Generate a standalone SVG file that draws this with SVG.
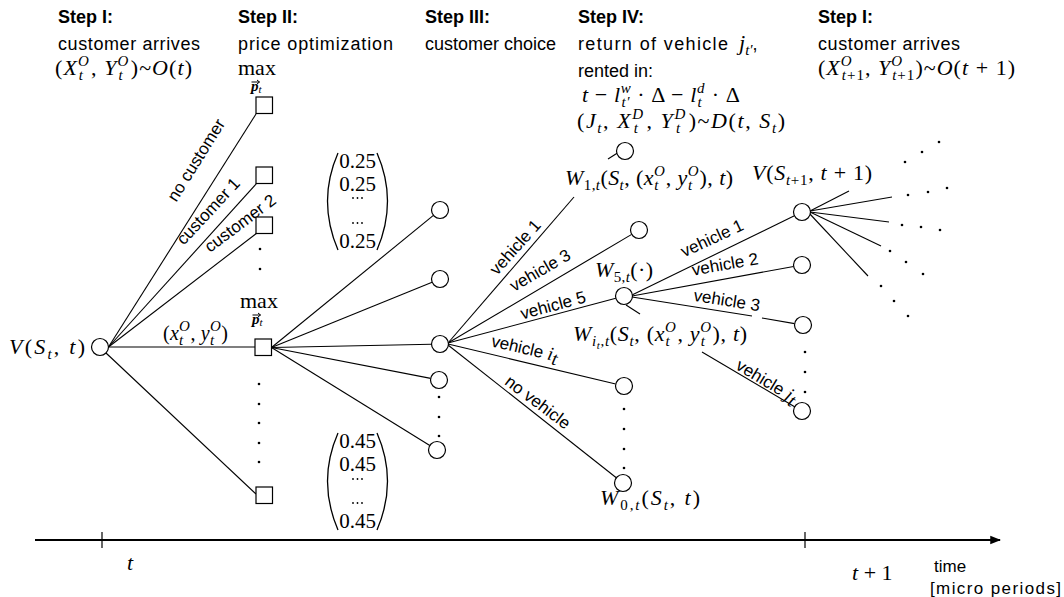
<svg xmlns="http://www.w3.org/2000/svg" width="1064" height="597" viewBox="0 0 1064 597">
<defs>
<style>
.h{font-family:"Liberation Sans",Arial,sans-serif;font-size:18px;fill:#000}
.b{font-weight:bold}
.m{font-family:"Liberation Serif","Times New Roman",serif;font-size:22px;fill:#000}
.i{font-style:italic}
.s{font-size:15px}
.ss{font-size:11px}
.pb{font-weight:bold;font-style:italic;font-size:15px}
.l{font-family:"Liberation Sans",Arial,sans-serif;font-size:17px;fill:#000;text-anchor:middle}
.n{fill:#fff;stroke:#000;stroke-width:1.2}
.c line{stroke:#000;stroke-width:1.1}
.d circle{fill:#000}
.v{font-family:"Liberation Serif","Times New Roman",serif;font-size:19px}
.vec{font-family:"Liberation Serif","Times New Roman",serif;font-size:21px;fill:#000;text-anchor:middle}
.par{fill:none;stroke:#000;stroke-width:1.3}
.acc{stroke:#000;stroke-width:1;fill:none}
</style>
<marker id="arr" viewBox="0 0 10 10" refX="9" refY="5" markerWidth="6" markerHeight="6" orient="auto" markerUnits="strokeWidth">
<path d="M0,1 L10,5 L0,9 z" fill="#000"/>
</marker>
</defs>
<rect width="1064" height="597" fill="#fff"/>

<g id="headers">
<text class="h b" x="58" y="23">Step I:</text>
<text class="h" x="58" y="50" textLength="142">customer arrives</text>
<text class="m" x="55" y="75" textLength="137">(<tspan class="i">X</tspan><tspan class="i s" dy="-9">O</tspan><tspan class="i s" dx="-11" dy="14">t</tspan><tspan dx="7" dy="-5">, </tspan><tspan class="i">Y</tspan><tspan class="i s" dy="-9">O</tspan><tspan class="i s" dx="-11" dy="14">t</tspan><tspan dx="7" dy="-5">)~</tspan><tspan class="i">O</tspan>(<tspan class="i">t</tspan>)</text>

<text class="h b" x="238" y="23">Step II:</text>
<text class="h" x="238" y="50" textLength="155">price optimization</text>

<text class="h b" x="425" y="23">Step III:</text>
<text class="h" x="425" y="50">customer choice</text>

<text class="h b" x="578" y="23">Step IV:</text>
<text class="h" x="578" y="50" textLength="150">return of vehicle</text>
<text class="m" x="739" y="50"><tspan class="i">j</tspan><tspan class="i s" dy="5">t′</tspan><tspan class="h" dy="-5">,</tspan></text>
<text class="h" x="578" y="77">rented in:</text>
<text class="m" x="582" y="102" textLength="158"><tspan class="i">t</tspan> − <tspan class="i">l</tspan><tspan class="i s" dy="-9">w</tspan><tspan class="i s" dx="-10" dy="14">t′</tspan><tspan dx="1" dy="-5"> · Δ − </tspan><tspan class="i">l</tspan><tspan class="i s" dy="-9">d</tspan><tspan class="i s" dx="-7.5" dy="14">t</tspan><tspan dx="3.3" dy="-5"> · Δ</tspan></text>
<text class="m" x="577" y="128" textLength="208">(<tspan class="i">J</tspan><tspan class="i s" dy="5">t</tspan><tspan dy="-5">, </tspan><tspan class="i">X</tspan><tspan class="i s" dy="-9">D</tspan><tspan class="i s" dx="-11" dy="14">t</tspan><tspan dx="7" dy="-5">, </tspan><tspan class="i">Y</tspan><tspan class="i s" dy="-9">D</tspan><tspan class="i s" dx="-11" dy="14">t</tspan><tspan dx="7" dy="-5">)~</tspan><tspan class="i">D</tspan>(<tspan class="i">t</tspan>, <tspan class="i">S</tspan><tspan class="i s" dy="5">t</tspan><tspan dy="-5">)</tspan></text>

<text class="h b" x="818" y="23">Step I:</text>
<text class="h" x="818" y="50" textLength="142">customer arrives</text>
<text class="m" x="818" y="75" textLength="197">(<tspan class="i">X</tspan><tspan class="i s" dy="-9">O</tspan><tspan class="i s" dx="-11" dy="14">t</tspan><tspan class="s">+1</tspan><tspan dy="-5">, </tspan><tspan class="i">Y</tspan><tspan class="i s" dy="-9">O</tspan><tspan class="i s" dx="-11" dy="14">t</tspan><tspan class="s">+1</tspan><tspan dy="-5">)~</tspan><tspan class="i">O</tspan>(<tspan class="i">t</tspan> + 1)</text>
</g>

<g id="connectors" class="c">
<line x1="108.5" y1="347" x2="256" y2="114"/>
<line x1="108.5" y1="347" x2="257" y2="183"/>
<line x1="108.5" y1="347" x2="257" y2="233"/>
<line x1="108.5" y1="347" x2="255" y2="347"/>
<line x1="106" y1="353" x2="256" y2="494"/>
<line x1="271.5" y1="347.5" x2="433.4" y2="215.4"/>
<line x1="271.5" y1="347.5" x2="432.1" y2="282.2"/>
<line x1="271.5" y1="347.5" x2="431.5" y2="344.2"/>
<line x1="271.5" y1="347.5" x2="430.7" y2="378.4"/>
<line x1="271.5" y1="347.5" x2="429.8" y2="445.5"/>
<line x1="448" y1="343" x2="574" y2="197"/>
<line x1="608" y1="159" x2="619" y2="152"/>
<line x1="448" y1="343" x2="631.7" y2="234.4"/>
<line x1="448" y1="343" x2="615.8" y2="298.2"/>
<line x1="448" y1="344" x2="615.7" y2="384"/>
<line x1="448" y1="345" x2="616.3" y2="477.7"/>
<line x1="632" y1="295" x2="794.4" y2="215.8"/>
<line x1="632" y1="296" x2="793.6" y2="266.5"/>
<line x1="632" y1="297" x2="752" y2="316"/>
<line x1="762" y1="318" x2="794.6" y2="323.6"/>
<line x1="626" y1="305" x2="640" y2="314"/>
<line x1="702" y1="352" x2="795" y2="407"/>
<line x1="810" y1="211" x2="849" y2="191"/>
<line x1="810" y1="211" x2="892" y2="197"/>
<line x1="810" y1="212" x2="889" y2="222"/>
<line x1="810" y1="212" x2="881" y2="246"/>
<line x1="809" y1="213" x2="868" y2="276"/>
</g>

<g id="connector-labels">
<text class="l" x="196" y="166" transform="rotate(-58 196 160)">no customer</text>
<text class="l" x="208" y="217" transform="rotate(-47 208 211)">customer 1</text>
<text class="l" x="240" y="229" transform="rotate(-37 240 223)">customer 2</text>
<text class="m" x="163" y="340" textLength="65" style="font-size:20px">(<tspan class="i">x</tspan><tspan class="i s" dy="-9">O</tspan><tspan class="i s" dx="-11" dy="14">t</tspan><tspan dx="7" dy="-5">, </tspan><tspan class="i">y</tspan><tspan class="i s" dy="-9">O</tspan><tspan class="i s" dx="-11" dy="14">t</tspan><tspan dx="7" dy="-5">)</tspan></text>
<text class="l" x="515" y="253" transform="rotate(-48 515 247)">vehicle 1</text>
<text class="l" x="540" y="276" transform="rotate(-30 540 270)">vehicle 3</text>
<text class="l" x="553" y="311" transform="rotate(-15 553 305)">vehicle 5</text>
<text class="l" x="525" y="354" transform="rotate(13 525 348)">vehicle <tspan class="v i">i</tspan><tspan class="v i s" dy="4">t</tspan></text>
<text class="l" x="538" y="408" transform="rotate(37 538 402)">no vehicle</text>
<text class="l" x="712" y="244" transform="rotate(-25 712 238)">vehicle 1</text>
<text class="l" x="725" y="270" transform="rotate(-10 725 264)">vehicle 2</text>
<text class="l" x="727" y="306" transform="rotate(9 727 300)">vehicle 3</text>
<text class="l" x="767" y="387" transform="rotate(31 767 381)">vehicle <tspan class="v i">j</tspan><tspan class="v i s" dy="4">t</tspan></text>
</g>

<g id="node-root">
<circle class="n" cx="100" cy="347" r="8.5"/>
<text class="m" x="9" y="354" textLength="76"><tspan class="i">V</tspan>(<tspan class="i">S</tspan><tspan class="i s" dy="5">t</tspan><tspan dy="-5">, </tspan><tspan class="i">t</tspan>)</text>
</g>

<g id="node-price-none">
<rect class="n" x="256" y="97" width="16.5" height="16.5"/>
<text class="m"><tspan x="238" y="75">max</tspan><tspan class="pb" x="251" y="91">p</tspan><tspan class="i ss" dy="2">t</tspan></text>
<path class="acc" d="M251.5,82 H259.5 M257,80 L259.5,82 L257,84"/>
</g>
<g id="node-price-c1"><rect class="n" x="256" y="167" width="16.5" height="16.5"/></g>
<g id="node-price-c2"><rect class="n" x="256" y="217" width="16.5" height="16.5"/></g>
<g id="node-price-main">
<rect class="n" x="255" y="339" width="16.5" height="16.5"/>
<text class="m"><tspan x="240" y="308">max</tspan><tspan class="pb" x="252" y="324">p</tspan><tspan class="i ss" dy="2">t</tspan></text>
<path class="acc" d="M252.5,315 H260.5 M258,313 L260.5,315 L258,317"/>
</g>
<g id="node-price-last"><rect class="n" x="256" y="487" width="16.5" height="16.5"/></g>

<g id="price-vectors">
<path class="par" d="M338,153 Q317,201 338,250"/>
<path class="par" d="M377,153 Q398,201 377,250"/>
<text class="vec"><tspan x="357.5" y="168">0.25</tspan><tspan x="357.5" y="191">0.25</tspan><tspan x="357.5" y="248">0.25</tspan></text>
<path class="par" d="M338,433 Q317,481 338,530"/>
<path class="par" d="M377,433 Q398,481 377,530"/>
<text class="vec"><tspan x="357.5" y="448">0.45</tspan><tspan x="357.5" y="471">0.45</tspan><tspan x="357.5" y="528">0.45</tspan></text>
</g>

<g id="node-choice-a"><circle class="n" cx="440" cy="210" r="8.5"/></g>
<g id="node-choice-b"><circle class="n" cx="440" cy="279" r="8.5"/></g>
<g id="node-choice-main"><circle class="n" cx="440" cy="344" r="8.5"/></g>
<g id="node-choice-d"><circle class="n" cx="439" cy="380" r="8.5"/></g>
<g id="node-choice-e"><circle class="n" cx="437" cy="450" r="8.5"/></g>

<g id="node-w1">
<circle class="n" cx="625" cy="151" r="8.5"/>
<text class="m" x="565" y="185" textLength="168"><tspan class="i">W</tspan><tspan class="s" dy="5">1,</tspan><tspan class="i s">t</tspan><tspan dy="-5">(</tspan><tspan class="i">S</tspan><tspan class="i s" dy="5">t</tspan><tspan dy="-5">, (</tspan><tspan class="i">x</tspan><tspan class="i s" dy="-9">O</tspan><tspan class="i s" dx="-11" dy="14">t</tspan><tspan dx="7" dy="-5">, </tspan><tspan class="i">y</tspan><tspan class="i s" dy="-9">O</tspan><tspan class="i s" dx="-11" dy="14">t</tspan><tspan dx="7" dy="-5">), </tspan><tspan class="i">t</tspan>)</text>
</g>
<g id="node-w3"><circle class="n" cx="639" cy="230" r="8.5"/></g>
<g id="node-w5">
<circle class="n" cx="624" cy="296" r="8.5"/>
<text class="m" x="595" y="277" textLength="58"><tspan class="i">W</tspan><tspan class="s" dy="5">5,</tspan><tspan class="i s">t</tspan><tspan dy="-5">(·)</tspan></text>
</g>
<g id="node-wit">
<circle class="n" cx="624" cy="386" r="8.5"/>
<text class="m" x="573" y="341" textLength="174"><tspan class="i">W</tspan><tspan class="i s" dy="5">i</tspan><tspan class="i ss" dy="3">t</tspan><tspan class="s" dy="-3">,</tspan><tspan class="i s">t</tspan><tspan dy="-5">(</tspan><tspan class="i">S</tspan><tspan class="i s" dy="5">t</tspan><tspan dy="-5">, (</tspan><tspan class="i">x</tspan><tspan class="i s" dy="-9">O</tspan><tspan class="i s" dx="-11" dy="14">t</tspan><tspan dx="7" dy="-5">, </tspan><tspan class="i">y</tspan><tspan class="i s" dy="-9">O</tspan><tspan class="i s" dx="-11" dy="14">t</tspan><tspan dx="7" dy="-5">), </tspan><tspan class="i">t</tspan>)</text>
</g>
<g id="node-w0">
<circle class="n" cx="623" cy="483" r="8.5"/>
<text class="m" x="600" y="505" textLength="100"><tspan class="i">W</tspan><tspan class="s" dy="5">0,</tspan><tspan class="i s">t</tspan><tspan dy="-5">(</tspan><tspan class="i">S</tspan><tspan class="i s" dy="5">t</tspan><tspan dy="-5">, </tspan><tspan class="i">t</tspan>)</text>
</g>

<g id="node-next">
<circle class="n" cx="802" cy="212" r="8.5"/>
<text class="m" x="752" y="180" textLength="120"><tspan class="i">V</tspan>(<tspan class="i">S</tspan><tspan class="i s" dy="5">t</tspan><tspan class="s">+1</tspan><tspan dy="-5">, </tspan><tspan class="i">t</tspan> + 1)</text>
</g>
<g id="node-v2"><circle class="n" cx="802" cy="265" r="8.5"/></g>
<g id="node-v3"><circle class="n" cx="803" cy="325" r="8.5"/></g>
<g id="node-vj"><circle class="n" cx="802" cy="411" r="8.5"/></g>

<g id="dots" class="d">
<circle cx="353" cy="198" r="0.9"/><circle cx="357.5" cy="198" r="0.9"/><circle cx="362" cy="198" r="0.9"/>
<circle cx="353" cy="223" r="0.9"/><circle cx="357.5" cy="223" r="0.9"/><circle cx="362" cy="223" r="0.9"/>
<circle cx="353" cy="479" r="0.9"/><circle cx="357.5" cy="479" r="0.9"/><circle cx="362" cy="479" r="0.9"/>
<circle cx="353" cy="503" r="0.9"/><circle cx="357.5" cy="503" r="0.9"/><circle cx="362" cy="503" r="0.9"/>
<circle cx="260" cy="249" r="1.3"/><circle cx="260" cy="269" r="1.3"/>
<circle cx="259" cy="384" r="1.3"/><circle cx="259" cy="404" r="1.3"/><circle cx="259" cy="423" r="1.3"/><circle cx="259" cy="443" r="1.3"/><circle cx="259" cy="462" r="1.3"/>
<circle cx="439" cy="397" r="1.3"/><circle cx="439" cy="417" r="1.3"/><circle cx="439" cy="436" r="1.3"/>
<circle cx="624" cy="409" r="1.3"/><circle cx="624" cy="429" r="1.3"/><circle cx="624" cy="449" r="1.3"/><circle cx="624" cy="468" r="1.3"/>
<circle cx="805" cy="352" r="1.3"/><circle cx="805" cy="372" r="1.3"/><circle cx="805" cy="392" r="1.3"/>
<circle cx="905" cy="162" r="1.3"/><circle cx="922" cy="152" r="1.3"/><circle cx="939" cy="142" r="1.3"/>
<circle cx="908" cy="195" r="1.3"/><circle cx="928" cy="192" r="1.3"/><circle cx="947" cy="188" r="1.3"/>
<circle cx="902" cy="225" r="1.3"/><circle cx="921" cy="227" r="1.3"/><circle cx="940" cy="230" r="1.3"/>
<circle cx="890" cy="251" r="1.3"/><circle cx="906" cy="262" r="1.3"/><circle cx="923" cy="274" r="1.3"/>
<circle cx="881" cy="286" r="1.3"/><circle cx="894" cy="301" r="1.3"/><circle cx="908" cy="316" r="1.3"/>
</g>

<g id="timeline">
<line x1="35" y1="540" x2="1000" y2="540" stroke="#000" stroke-width="1.8" marker-end="url(#arr)"/>
<line x1="102" y1="532" x2="102" y2="548" stroke="#000" stroke-width="1.2"/>
<line x1="805" y1="532" x2="805" y2="548" stroke="#000" stroke-width="1.2"/>
<text class="m i" x="127" y="570">t</text>
<text class="m" x="852" y="580"><tspan class="i">t</tspan> + 1</text>
<text class="h" x="934" y="572" style="font-size:17px">time</text>
<text class="h" x="930" y="594" style="font-size:17px" textLength="131">[micro periods]</text>
</g>
</svg>
